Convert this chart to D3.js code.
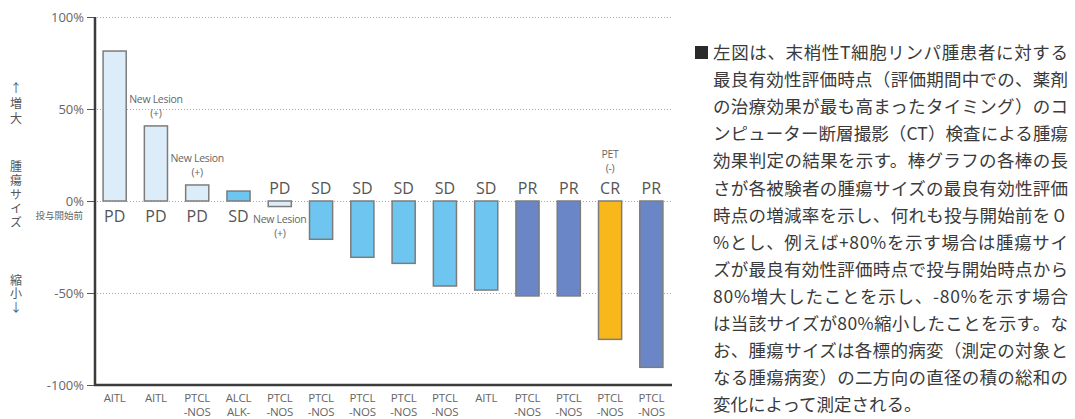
<!doctype html>
<html>
<head>
  <meta charset="utf-8">
  <title>腫瘍サイズの変化率</title>
  <style>
  body{
    margin: 0;
    background: #fff;
    font-family: "Open Sans", sans-serif;
  }
  .grid line{
    stroke: #a8a8a8;
    stroke-dasharray: 1,2;
  }
  .tick-label{
    font-size: 13px;
    fill: #666;
  }
  .resp{
    font-size: 16px;
    fill: #555;
  }
  .note{
    font-size: 10.5px;
    fill: #666;
    letter-spacing: -0.3px;
  }
  .cat{
    font-size: 11.5px;
    fill: #666;
    letter-spacing: -0.2px;
  }
  .jp{
    font-family: "Noto Sans CJK JP", sans-serif;
  }
  .vert{
    writing-mode: vertical-rl;
    text-orientation: upright;
  }
  </style>
</head>
<body>
  <svg></svg>

  <script src="https://d3js.org/d3.v7.min.js"></script>
  <script>
  var width = 1075;
  var height = 419;

  // one entry per patient, in chart order
  var categories = [
    ['AITL'], ['AITL'], ['PTCL', '-NOS'], ['ALCL', 'ALK-'], ['PTCL', '-NOS'],
    ['PTCL', '-NOS'], ['PTCL', '-NOS'], ['PTCL', '-NOS'], ['PTCL', '-NOS'], ['AITL'],
    ['PTCL', '-NOS'], ['PTCL', '-NOS'], ['PTCL', '-NOS'], ['PTCL', '-NOS']
  ];
  var values = [81.5, 40.8, 8.7, 5.4, -3, -20.8, -30.6, -33.9, -46.2, -48.4, -51.6, -51.6, -75.2, -90.4];
  var responses = ['PD', 'PD', 'PD', 'SD', 'PD', 'SD', 'SD', 'SD', 'SD', 'SD', 'PR', 'PR', 'CR', 'PR'];
  // extra notes: index, lines, where
  var notes = [
    { i: 1, lines: ['New Lesion', '(+)'], pos: 'top' },
    { i: 2, lines: ['New Lesion', '(+)'], pos: 'top' },
    { i: 4, lines: ['New Lesion', '(+)'], pos: 'below' },
    { i: 12, lines: ['PET', '(-)'], pos: 'label' }
  ];
  var yTicks = [100, 50, 0, -50, -100];
  var gridTicks = [100, 50, 0, -50];

  var respColor = {
    PD: '#dcedf9',
    SD: '#6ec6f0',
    PR: '#6a86c6',
    CR: '#f8b81c'
  };

  var sideText = [
    '最良有効性評価時点（評価期間中での、薬剤',
    'の治療効果が最も高まったタイミング）のコ',
    'ンピューター断層撮影（CT）検査による腫瘍',
    '効果判定の結果を示す。棒グラフの各棒の長',
    'さが各被験者の腫瘍サイズの最良有効性評価',
    '時点の増減率を示し、何れも投与開始前を０',
    '%とし、例えば+80%を示す場合は腫瘍サイ',
    'ズが最良有効性評価時点で投与開始時点から',
    '80%増大したことを示し、-80%を示す場合',
    'は当該サイズが80%縮小したことを示す。な',
    'お、腫瘍サイズは各標的病変（測定の対象と',
    'なる腫瘍病変）の二方向の直径の積の総和の',
    '変化によって測定される。'
  ];
  var firstLine = '左図は、末梢性T細胞リンパ腫患者に対する';

  var svg = d3.select('svg')
    .attr('width', width)
    .attr('height', height);

  var axisX = 95;
  var x = d3.scaleBand()
    .domain(d3.range(values.length))
    .range([axisX - 1, 672])
    .paddingInner(0.44)
    .paddingOuter(0.22);

  var y = d3.scaleLinear()
    .domain([-100, 100])
    .range([385, 17]);

  // dotted grid
  svg.append('g').attr('class', 'grid')
    .selectAll('line').data(gridTicks).enter().append('line')
      .attr('x1', axisX + 2)
      .attr('x2', 672)
      .attr('y1', function(d){ return y(d) + 0.5; })
      .attr('y2', function(d){ return y(d) + 0.5; });

  // bars
  svg.append('g').selectAll('rect').data(values).enter().append('rect')
    .attr('x', function(d, i){ return x(i); })
    .attr('width', x.bandwidth())
    .attr('y', function(d){ return y(Math.max(0, d)); })
    .attr('height', function(d){ return Math.abs(y(d) - y(0)); })
    .attr('fill', function(d, i){ return respColor[responses[i]]; })
    .attr('stroke', '#7c7c7c')
    .attr('stroke-width', 1.5);

  // response labels
  svg.append('g').selectAll('text').data(responses).enter().append('text')
    .attr('class', 'resp')
    .attr('text-anchor', 'middle')
    .attr('x', function(d, i){ return x(i) + x.bandwidth() / 2; })
    .attr('y', function(d, i){ return values[i] >= 0 ? y(0) + 21 : y(0) - 7; })
    .text(function(d){ return d; });

  // notes
  notes.forEach(function(n){
    var cx = x(n.i) + x.bandwidth() / 2;
    var y0;
    if(n.pos === 'top') y0 = y(values[n.i]) - 23;
    else if(n.pos === 'below') y0 = y(0) + 22;
    else y0 = y(0) - 43;
    n.lines.forEach(function(t, k){
      svg.append('text')
        .attr('class', 'note')
        .attr('text-anchor', 'middle')
        .attr('x', cx)
        .attr('y', y0 + k * 14)
        .text(t);
    });
  });

  // category labels (two lines where needed)
  var cats = svg.append('g').selectAll('text').data(categories).enter().append('text')
    .attr('class', 'cat')
    .attr('text-anchor', 'middle')
    .attr('x', function(d, i){ return x(i) + x.bandwidth() / 2; })
    .attr('y', 402);
  cats.selectAll('tspan').data(function(d){ return d; }).enter().append('tspan')
    .attr('x', function(){ return d3.select(this.parentNode).attr('x'); })
    .attr('dy', function(d, k){ return k === 0 ? 0 : 14; })
    .text(function(d){ return d; });

  // y axis ticks
  svg.append('g').selectAll('line').data(yTicks).enter().append('line')
    .attr('x1', axisX - 8)
    .attr('x2', axisX)
    .attr('y1', function(d){ return y(d) + 0.5; })
    .attr('y2', function(d){ return y(d) + 0.5; })
    .attr('stroke', '#555')
    .attr('stroke-width', 1);

  svg.append('g').selectAll('text').data(yTicks).enter().append('text')
    .attr('class', 'tick-label')
    .attr('text-anchor', 'end')
    .attr('x', axisX - 11)
    .attr('y', function(d){ return y(d) + 5; })
    .text(function(d){ return d + '%'; });

  svg.append('text')
    .attr('class', 'jp')
    .attr('text-anchor', 'end')
    .attr('x', axisX - 12)
    .attr('y', y(0) + 18)
    .attr('font-size', 9.5)
    .attr('fill', '#666')
    .text('投与開始前');

  // axis lines
  svg.append('line')
    .attr('x1', axisX).attr('x2', axisX)
    .attr('y1', y(100)).attr('y2', y(-100) + 1)
    .attr('stroke', '#3b3b3b').attr('stroke-width', 2.5);
  svg.append('line')
    .attr('x1', axisX - 1).attr('x2', 672)
    .attr('y1', y(-100)).attr('y2', y(-100))
    .attr('stroke', '#3b3b3b').attr('stroke-width', 2.5);

  // vertical side label, written top to bottom
  function vertical(str, startY, spacing){
    svg.append('text')
      .attr('class', 'jp vert')
      .attr('x', 16)
      .attr('y', startY)
      .attr('font-size', 12)
      .attr('letter-spacing', spacing)
      .attr('fill', '#555')
      .text(str);
  }
  vertical('↑増大', 82, 3);
  vertical('腫瘍サイズ', 160, 2);
  vertical('縮小↓', 274, 1.5);

  // explanatory paragraph
  var fs = 17.5;
  var textX = 713, textW = 355, lineY = 59, lineStep = 27.1;

  svg.append('rect')
    .attr('x', 695).attr('y', lineY - 13)
    .attr('width', 13).attr('height', 13)
    .attr('fill', '#2a2a2a');

  [firstLine].concat(sideText).forEach(function(t, k){
    var txt = svg.append('text')
      .attr('class', 'jp')
      .attr('x', textX)
      .attr('y', lineY + k * lineStep)
      .attr('font-size', fs)
      .attr('fill', '#3a3a3a')
      .text(t);
    if(k < sideText.length){
      txt.attr('textLength', textW).attr('lengthAdjust', 'spacing');
    }
  });
  </script>
</body>
</html>
